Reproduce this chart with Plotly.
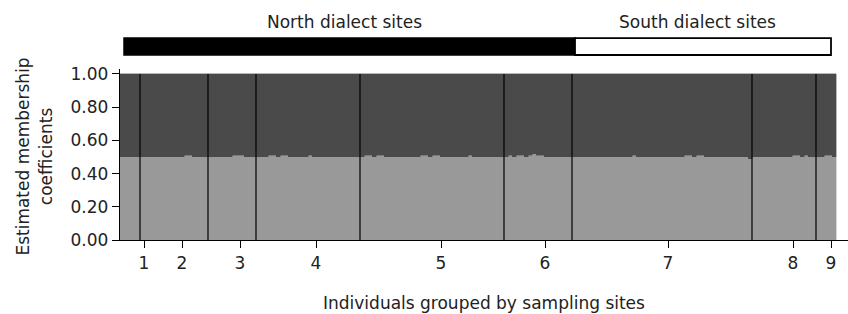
import plotly.graph_objects as go

# ---- data ----
site_labels = ["1", "2", "3", "4", "5", "6", "7", "8", "9"]
# estimated membership coefficient of cluster 1 (light grey) per individual, per site
site1 = [0.50, 0.50, 0.50, 0.50, 0.50]
site2 = [0.50, 0.50, 0.50, 0.50, 0.50, 0.50, 0.50, 0.50, 0.50, 0.50, 0.50, 0.51, 0.51, 0.50, 0.50, 0.50, 0.50]
site3 = [0.50, 0.50, 0.50, 0.50, 0.50, 0.50, 0.51, 0.51, 0.51, 0.50, 0.50, 0.50]
site4 = [0.50, 0.50, 0.50, 0.51, 0.51, 0.50, 0.51, 0.51, 0.50, 0.50, 0.50, 0.50, 0.50,
         0.51, 0.50, 0.50, 0.50, 0.50, 0.50, 0.50, 0.50, 0.50, 0.50, 0.50, 0.50, 0.50]
site5 = [0.50, 0.51, 0.51, 0.50, 0.51, 0.51, 0.50, 0.50, 0.50, 0.50, 0.50, 0.50,
         0.50, 0.50, 0.50, 0.51, 0.51, 0.50, 0.51, 0.51, 0.50, 0.50, 0.50, 0.50,
         0.50, 0.50, 0.50, 0.51, 0.50, 0.50, 0.50, 0.50, 0.50, 0.50, 0.50, 0.50]
site6 = [0.50, 0.51, 0.50, 0.51, 0.51, 0.50, 0.51, 0.52, 0.51, 0.51, 0.50, 0.50, 0.50, 0.50, 0.50, 0.50, 0.50]
site7 = [0.50, 0.50, 0.50, 0.50, 0.50, 0.50, 0.50, 0.50, 0.50, 0.50, 0.50, 0.50, 0.50, 0.50, 0.50,
         0.51, 0.50, 0.50, 0.50, 0.50, 0.50, 0.50, 0.50, 0.50, 0.50, 0.50, 0.50, 0.50,
         0.51, 0.51, 0.50, 0.51, 0.51, 0.50, 0.50, 0.50, 0.50, 0.50, 0.50, 0.50, 0.50,
         0.50, 0.50, 0.50, 0.49]
site8 = [0.50, 0.50, 0.50, 0.50, 0.50, 0.50, 0.50, 0.50, 0.50, 0.50, 0.51, 0.51, 0.50, 0.51, 0.50, 0.50]
site9 = [0.50, 0.50, 0.51, 0.51, 0.50]
sites = [site1, site2, site3, site4, site5, site6, site7, site8, site9]
# tick positions (in individual index units) as placed on the original axis
tick_positions = [6, 15.5, 30, 49, 80.25, 106.25, 137, 168.25, 177.75]
north_sites = 6  # sites 1-6 are north dialect, 7-9 south

# ---- derived ----
cluster1 = [v for s in sites for v in s]
cluster2 = [round(1 - v, 4) for v in cluster1]
n = len(cluster1)
xs = [i + 0.5 for i in range(n)]
bounds = []
acc = 0
for s in sites:
    acc += len(s)
    bounds.append(acc)

FONT = "DejaVu Sans"
TXT = "#222222"
LIGHT = "#999999"
DARK = "#4a4a4a"

fig = go.Figure()
fig.add_trace(go.Bar(x=xs, y=cluster1, width=1, marker=dict(color=LIGHT, line=dict(width=0.4, color=LIGHT)),
                     showlegend=False, hoverinfo="skip"))
fig.add_trace(go.Bar(x=xs, y=cluster2, width=1, marker=dict(color=DARK, line=dict(width=0.4, color=DARK)),
                     showlegend=False, hoverinfo="skip"))

shapes = []
for b in bounds[:-1]:
    shapes.append(dict(type="line", xref="x", yref="y", x0=b, x1=b, y0=0, y1=1,
                       line=dict(color="black", width=1.2)))
# dialect bar
bar_y0, bar_y1 = 1.082, 1.181
split = bounds[north_sites - 1] + 0.75
shapes.append(dict(type="rect", xref="x", yref="paper", x0=1, x1=split, y0=bar_y0, y1=bar_y1,
                   fillcolor="black", line=dict(color="black", width=1.5), layer="above"))
shapes.append(dict(type="rect", xref="x", yref="paper", x0=split, x1=tick_positions[-1], y0=bar_y0, y1=bar_y1,
                   fillcolor="white", line=dict(color="black", width=1.8), layer="above"))

annotations = [
    dict(text="North dialect sites", xref="x", yref="paper", x=56, y=1.275, showarrow=False,
         xanchor="center", yanchor="middle", font=dict(family=FONT, size=17, color=TXT)),
    dict(text="South dialect sites", xref="x", yref="paper", x=144.25, y=1.275, showarrow=False,
         xanchor="center", yanchor="middle", font=dict(family=FONT, size=17, color=TXT)),
    dict(text="Individuals grouped by sampling sites", xref="paper", yref="paper", x=0.5, y=-0.368,
         xanchor="center", yanchor="middle", showarrow=False, font=dict(family=FONT, size=17, color=TXT)),
    dict(text="Estimated membership<br>coefficients", xref="paper", yref="paper", x=-0.1174, y=0.485,
         xanchor="center", yanchor="middle", textangle=-90, showarrow=False,
         font=dict(family=FONT, size=17, color=TXT)),
]

fig.update_layout(
    width=848, height=314,
    margin=dict(l=120, r=0, t=69, b=74),
    paper_bgcolor="white", plot_bgcolor="white",
    barmode="stack", bargap=0,
    shapes=shapes, annotations=annotations,
    font=dict(family=FONT, size=17, color=TXT),
    xaxis=dict(range=[0, 182], tickmode="array", tickvals=tick_positions, ticktext=site_labels,
               ticks="outside", ticklen=7, tickcolor="black", showline=True, linecolor="black",
               linewidth=1.2, showgrid=False, zeroline=False, fixedrange=True),
    yaxis=dict(range=[0, 1.03], tickmode="array", tickvals=[0, 0.2, 0.4, 0.6, 0.8, 1.0],
               tickformat=".2f", ticks="outside", ticklen=7, tickcolor="black", showline=True,
               linecolor="black", linewidth=1.2, showgrid=False, zeroline=False, fixedrange=True),
)

fig.write_html("out.html", config={"displayModeBar": False, "staticPlot": True},
               post_script="document.body.style.margin='0px';document.body.style.overflow='hidden';")
